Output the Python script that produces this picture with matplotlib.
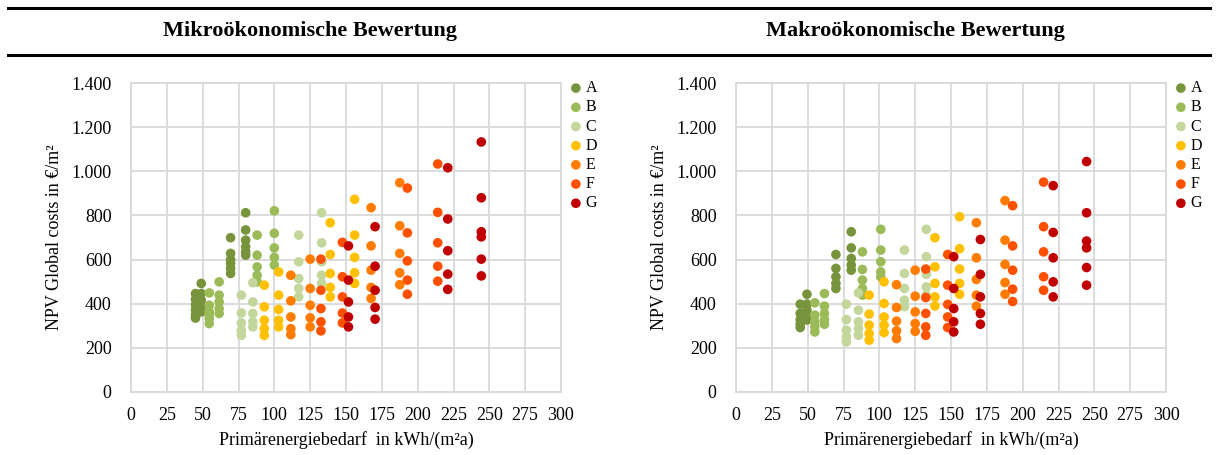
import matplotlib
matplotlib.use("Agg")
import matplotlib.pyplot as plt
from matplotlib.lines import Line2D
from matplotlib.ticker import FuncFormatter

# energy classes, colours
classes = ["A", "B", "C", "D", "E", "F", "G"]
colors = ["#77933C", "#9BBB59", "#C3D69B", "#FFC000", "#FF7C00", "#FF5000", "#C00000"]

# Mikro: {primary energy: [NPV values]}
mikro_A = {45: [335, 350, 372, 395, 420, 446], 49: [363, 386, 416, 446, 492],
           69.5: [537, 560, 582, 600, 628, 699], 80: [620, 635, 658, 688, 734, 812]}
mikro_B = {54.6: [310, 333, 348, 363, 393, 449], 61.5: [356, 378, 408, 439, 499],
           88: [499, 529, 567, 620, 711], 100: [575, 610, 653, 719, 821]}
mikro_C = {77: [257, 280, 313, 358, 439], 85: [295, 318, 356, 408, 495],
           117: [431, 469, 514, 590, 711], 133: [492, 529, 590, 676, 812]}
mikro_D = {93: [257, 287, 325, 386, 484], 103: [295, 325, 374, 439, 544],
           139: [431, 474, 537, 623, 767], 156: [492, 540, 610, 711, 873]}
mikro_E = {111.5: [260, 287, 340, 413, 529], 125: [295, 336, 393, 469, 602],
           167.5: [424, 474, 552, 662, 835], 187.5: [486, 540, 628, 753, 948]}
mikro_F = {132.5: [277, 318, 378, 461, 602], 147.5: [313, 358, 431, 522, 678],
           192.8: [443, 507, 594, 721, 924], 214: [502, 570, 676, 814, 1033]}
mikro_G = {151.7: [295, 340, 408, 507, 662], 170.3: [330, 383, 461, 570, 749],
           221: [465, 534, 640, 784, 1016], 244.4: [526, 602, 703, 726, 880, 1133]}

# Makro
makro_A = {44.8: [292, 307, 328, 356, 398], 49.5: [326, 340, 371, 398, 443],
           69.7: [469, 492, 522, 560, 623], 80.4: [552, 575, 605, 653, 726]}
makro_B = {55: [272, 295, 318, 348, 404], 61.7: [307, 328, 356, 389, 446],
           88.2: [439, 469, 507, 555, 635], 101: [522, 544, 590, 643, 737]}
makro_C = {77: [227, 250, 280, 328, 398], 85.4: [257, 287, 318, 371, 449],
           117.5: [386, 416, 469, 537, 643], 132.8: [439, 476, 533, 613, 737]}
makro_D = {92.9: [235, 265, 303, 353, 439], 103.3: [269, 303, 340, 401, 499],
           138.8: [390, 431, 492, 567, 699], 156: [443, 492, 557, 649, 794]}
makro_E = {112: [242, 277, 321, 383, 486], 125: [275, 310, 363, 434, 552],
           167.7: [389, 439, 510, 608, 767], 187.7: [443, 496, 578, 688, 867]}
makro_F = {132.4: [257, 295, 356, 428, 557], 147.7: [292, 340, 397, 484, 623],
           193: [410, 466, 552, 662, 844], 214.6: [461, 522, 635, 749, 951]}
makro_G = {151.9: [272, 318, 378, 469, 613], 170.5: [307, 356, 431, 533, 691],
           221.3: [431, 499, 608, 723, 935], 244.6: [484, 564, 653, 684, 812, 1044]}

mikro = [mikro_A, mikro_B, mikro_C, mikro_D, mikro_E, mikro_F, mikro_G]
makro = [makro_A, makro_B, makro_C, makro_D, makro_E, makro_F, makro_G]

x_ticks = list(range(0, 301, 25))
y_ticks = list(range(0, 1401, 200))

plt.rcParams['font.family'] = ['Liberation Serif', 'DejaVu Serif']
grid_col = "#D9D9D9"

fig = plt.figure(figsize=(12.17, 4.55), dpi=100)


def draw_panel(ax, data, title, title_x):
    for cls, col, series in zip(classes, colors, data):
        xs, ys = [], []
        for x, vals in series.items():
            xs += [x] * len(vals)
            ys += vals
        ax.scatter(xs, ys, s=48, color=col, edgecolors='none', label=cls, zorder=3)
    ax.set_xlim(0, 300)
    ax.set_ylim(0, 1400)
    ax.set_xticks(x_ticks)
    ax.set_yticks(y_ticks)
    ax.yaxis.set_major_formatter(FuncFormatter(lambda v, p: f"{int(v):,}".replace(",", ".")))
    ax.grid(True, color=grid_col, linewidth=1.3, zorder=0)
    ax.set_axisbelow(True)
    for sp in ax.spines.values():
        sp.set_color(grid_col)
        sp.set_linewidth(1.3)
    ax.tick_params(length=0, labelsize=13, pad=14)
    ax.tick_params(axis='x', pad=11)
    ax.set_xlabel("Primärenergiebedarf  in kWh/(m²a)", fontsize=13, labelpad=5)
    ax.set_ylabel("NPV Global costs in €/m²", fontsize=13, labelpad=6)
    ax.legend(loc='upper left', bbox_to_anchor=(0.99, 1.045), frameon=False,
              fontsize=11.5, handletextpad=0.1, labelspacing=0.2,
              handlelength=1.0, markerscale=1.0, borderaxespad=0.3)
    fig.text(title_x, 1 - 31 / 455, title, ha='center', va='center',
             fontsize=16, fontweight='bold')


ax1 = fig.add_axes([131 / 1217, 1 - 392 / 455, 430 / 1217, 309 / 455])
draw_panel(ax1, mikro, "Mikroökonomische Bewertung", 310 / 1217)
ax2 = fig.add_axes([736 / 1217, 1 - 392 / 455, 430 / 1217, 309 / 455])
draw_panel(ax2, makro, "Makroökonomische Bewertung", 915 / 1217)

for yy in (8, 55):
    fig.add_artist(Line2D([8 / 1217, 1210 / 1217], [1 - yy / 455] * 2,
                          transform=fig.transFigure, color='black', linewidth=2.2))

fig.savefig("out.png", dpi=100)
